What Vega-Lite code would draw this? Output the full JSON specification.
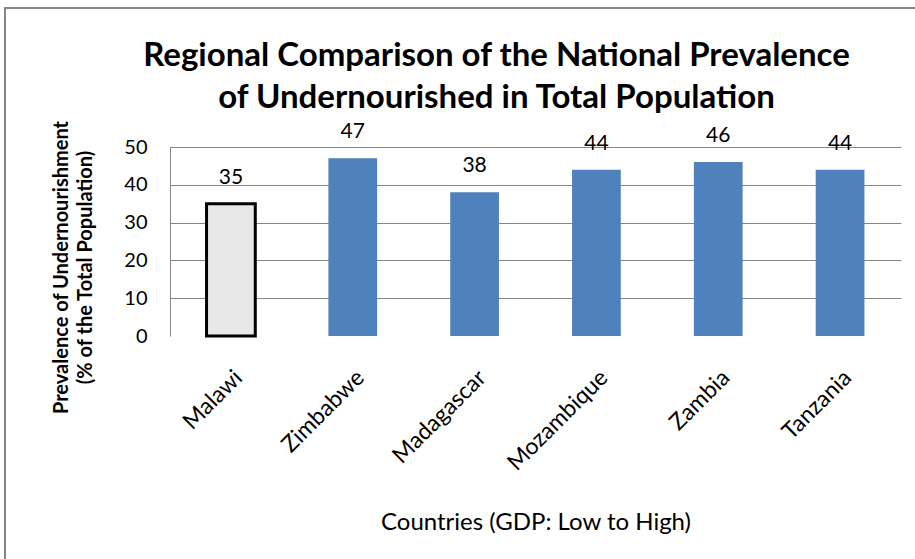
{
  "$schema": "https://vega.github.io/schema/vega-lite/v6.json",
  "width": 731,
  "height": 189,
  "autosize": "none",
  "padding": {"left": 170, "top": 147, "right": 14, "bottom": 223},
  "background": "white",
  "title": {
    "text": ["Regional Comparison of the National Prevalence", "of Undernourished in Total Population"],
    "font": "Lato",
    "fontSize": 33,
    "fontWeight": "bold",
    "color": "#000000",
    "lineHeight": 42,
    "anchor": "middle",
    "dx": -39,
    "dy": 138,
    "offset": 30
  },
  "config": {
    "view": {"stroke": null},
    "font": "Lato"
  },
  "data": {
    "values": [
      {"country": "Malawi", "prevalence": 35},
      {"country": "Zimbabwe", "prevalence": 47},
      {"country": "Madagascar", "prevalence": 38},
      {"country": "Mozambique", "prevalence": 44},
      {"country": "Zambia", "prevalence": 46},
      {"country": "Tanzania", "prevalence": 44}
    ]
  },
  "encoding": {
    "x": {
      "field": "country",
      "type": "nominal",
      "sort": null,
      "scale": {"paddingInner": 0.6, "paddingOuter": 0.3},
      "axis": {
        "title": "Countries (GDP: Low to High)",
        "titleFont": "Lato",
        "titleFontSize": 24,
        "titleFontWeight": "normal",
        "titleColor": "#000000",
        "titlePadding": 36,
        "labelAngle": -45,
        "labelFont": "Lato",
        "labelFontSize": 23,
        "labelColor": "#000000",
        "labelPadding": 30,
        "domain": false,
        "ticks": false,
        "grid": false
      }
    },
    "y": {
      "field": "prevalence",
      "type": "quantitative",
      "scale": {"domain": [0, 50]},
      "axis": {
        "values": [0, 10, 20, 30, 40, 50],
        "title": ["Prevalence of Undernourishment", "(% of the Total Population)"],
        "titleFont": "Lato",
        "titleFontSize": 20,
        "titleFontWeight": "bold",
        "titleColor": "#000000",
        "titleLineHeight": 24,
        "titlePadding": 28,
        "titleY": 120,
        "labelFont": "Lato",
        "labelFontSize": 20,
        "labelColor": "#000000",
        "labelPadding": 23,
        "ticks": false,
        "domain": true,
        "domainColor": "#868686",
        "domainWidth": 1,
        "grid": true,
        "gridColor": "#868686",
        "gridWidth": 1,
        "gridOpacity": {"condition": {"test": "datum.value === 0", "value": 0}, "value": 1}
      }
    }
  },
  "layer": [
    {
      "data": {"values": [{}]},
      "mark": {"type": "rect", "fill": null, "stroke": "#868686", "strokeWidth": 2},
      "encoding": {
        "x": {"value": -165},
        "x2": {"value": 760},
        "y": {"value": -139},
        "y2": {"value": 430}
      }
    },
    {
      "mark": {"type": "bar"},
      "encoding": {
        "color": {
          "condition": {"test": "datum.country === 'Malawi'", "value": "#e8e8e8"},
          "value": "#4F81BD"
        },
        "stroke": {
          "condition": {"test": "datum.country === 'Malawi'", "value": "#000000"},
          "value": null
        },
        "strokeWidth": {
          "condition": {"test": "datum.country === 'Malawi'", "value": 3},
          "value": 0
        }
      }
    },
    {
      "mark": {"type": "text", "baseline": "alphabetic", "dy": -20, "font": "Lato", "fontSize": 21, "color": "#000000"},
      "encoding": {
        "text": {"field": "prevalence", "type": "quantitative"}
      }
    }
  ]
}
